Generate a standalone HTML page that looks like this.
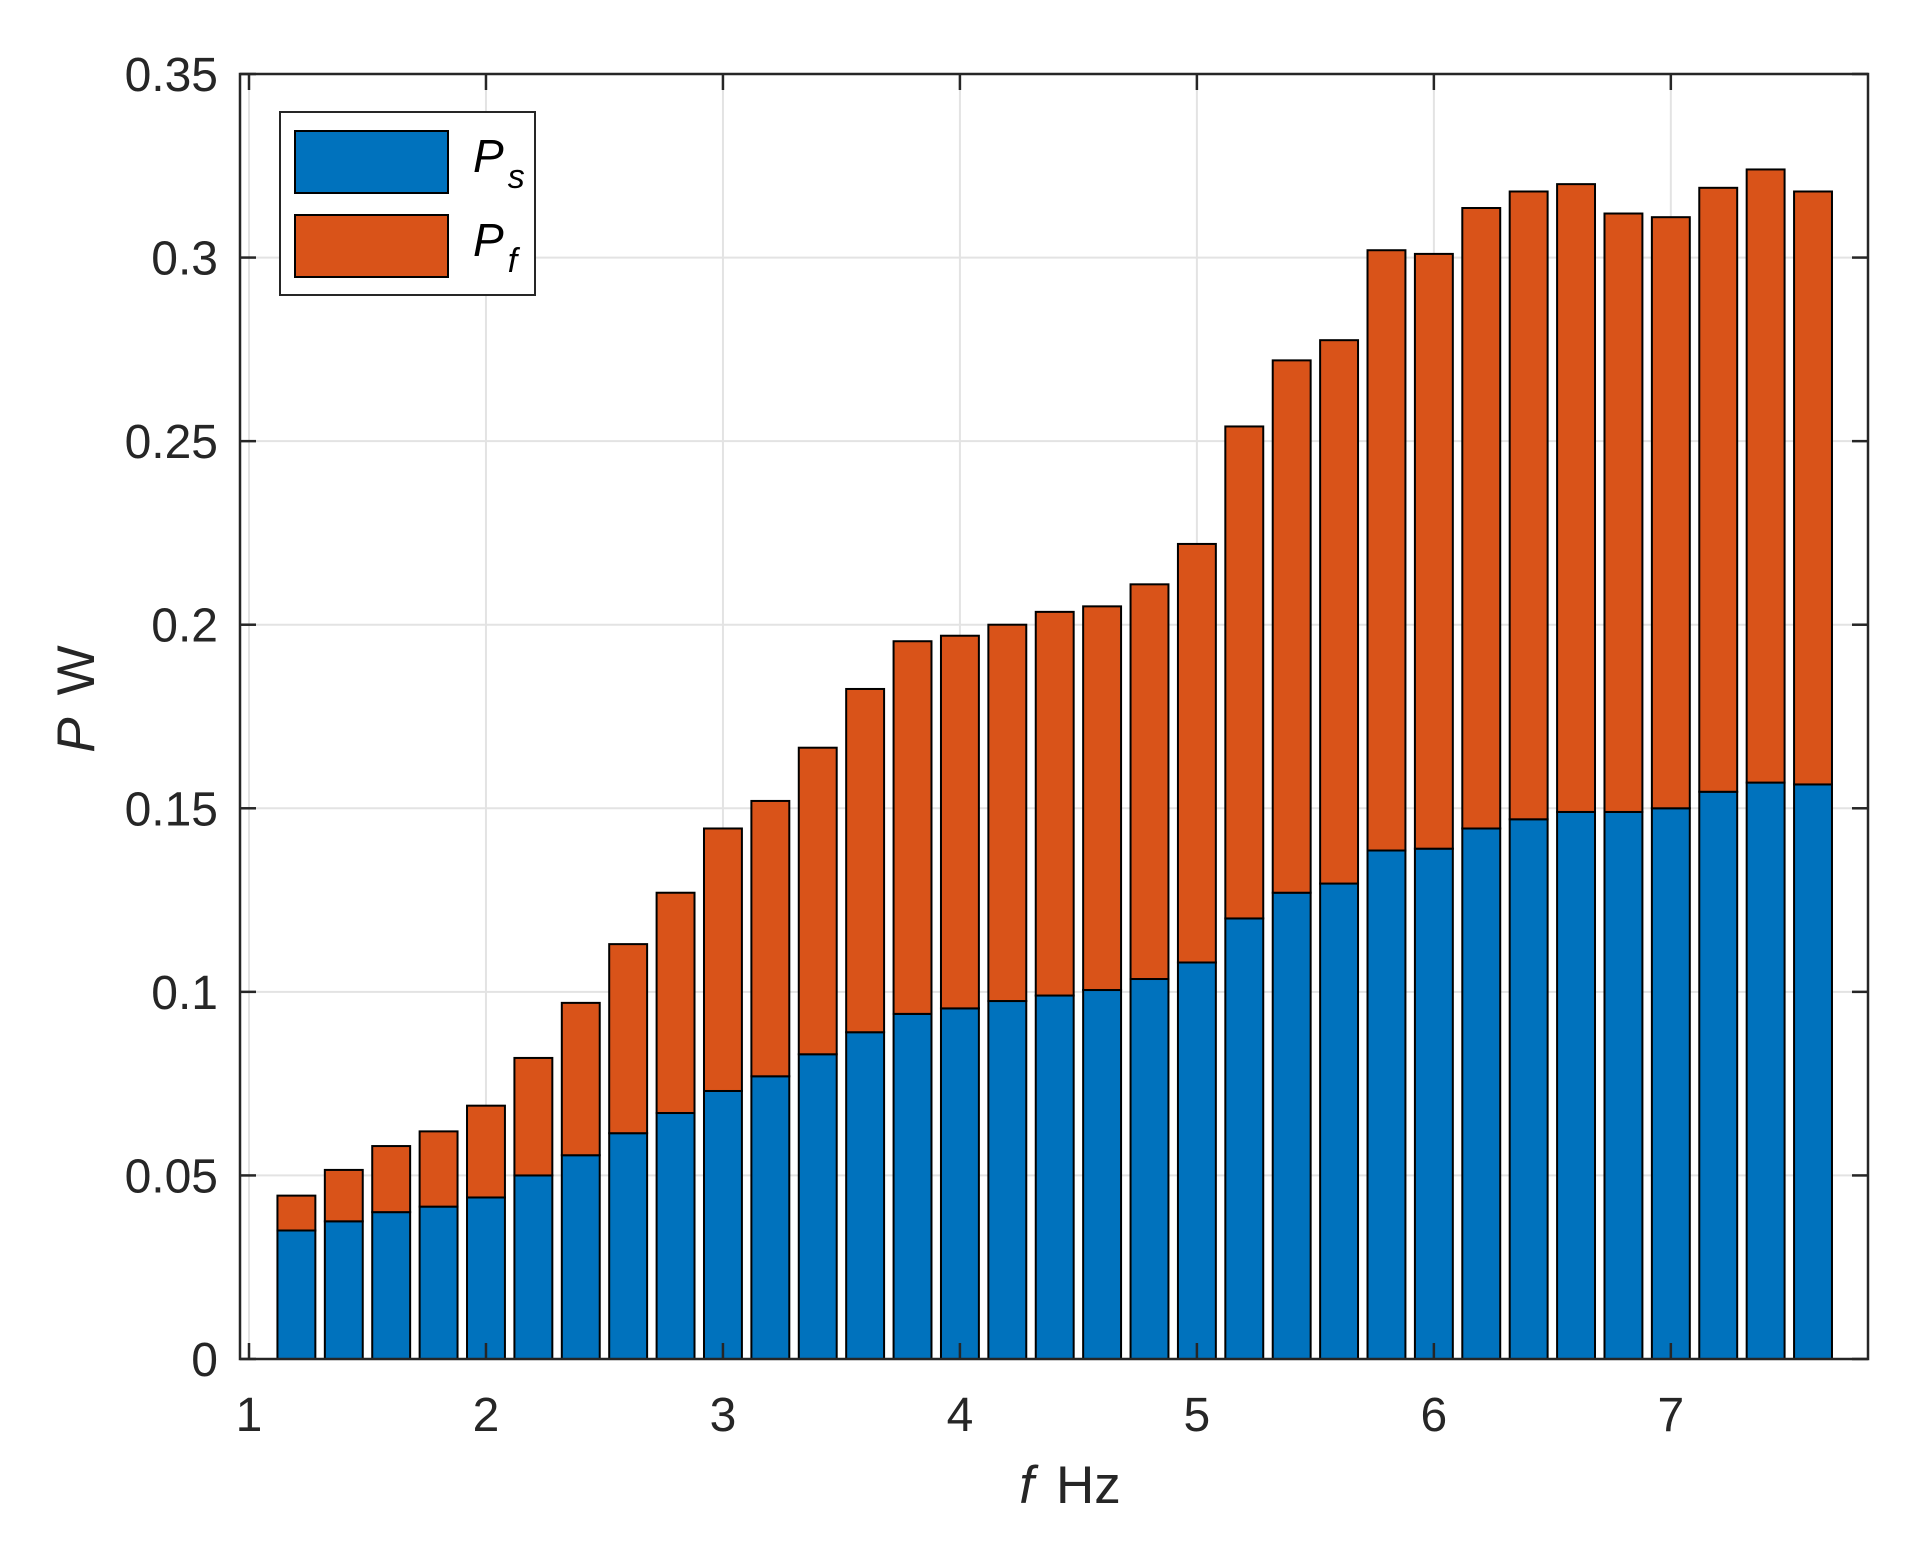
<!DOCTYPE html>
<html><head><meta charset="utf-8"><style>
html,body{margin:0;padding:0;background:#fff;}
svg{display:block;font-family:"Liberation Sans",Arial,sans-serif;}
</style></head><body>
<svg id="chart" width="1928" height="1553" viewBox="0 0 1928 1553" xmlns="http://www.w3.org/2000/svg">
<rect x="0" y="0" width="1928" height="1553" fill="#fff"/>
<g id="grid"></g>
<g id="bars"></g>
<g id="axes"></g>
<text x="1070" y="1503" font-size="53" text-anchor="middle" fill="#262626"><tspan font-style="italic">f</tspan><tspan dx="22">Hz</tspan></text>
<text transform="translate(94,699) rotate(-90)" font-size="53" text-anchor="middle" fill="#262626"><tspan font-style="italic">P</tspan><tspan dx="22">W</tspan></text>
<g>
<rect x="280" y="112" width="255" height="183" fill="#fff" stroke="#262626" stroke-width="2"/>
<rect x="295" y="131" width="153" height="62" fill="#0072BD" stroke="#000" stroke-width="2"/>
<text x="473" y="172" font-size="46" font-style="italic" fill="#000">P<tspan font-size="34" dx="4" dy="16">s</tspan></text>
<rect x="295" y="215" width="153" height="62" fill="#D95319" stroke="#000" stroke-width="2"/>
<text x="473" y="256" font-size="46" font-style="italic" fill="#000">P<tspan font-size="34" dx="4" dy="16">f</tspan></text>
</g>
</svg>
<script>
const freqs = [1.2,1.4,1.6,1.8,2.0,2.2,2.4,2.6,2.8,3.0,3.2,3.4,3.6,3.8,4.0,4.2,4.4,4.6,4.8,5.0,5.2,5.4,5.6,5.8,6.0,6.2,6.4,6.6,6.8,7.0,7.2,7.4,7.6];
const psValues = [0.035,0.0375,0.04,0.0415,0.044,0.05,0.0555,0.0615,0.067,0.073,0.077,0.083,0.089,0.094,0.0955,0.0975,0.099,0.1005,0.1035,0.108,0.12,0.127,0.1295,0.1385,0.139,0.1445,0.147,0.149,0.149,0.15,0.1545,0.157,0.1565];
const pfValues = [0.0095,0.014,0.018,0.0205,0.025,0.032,0.0415,0.0515,0.06,0.0715,0.075,0.0835,0.0935,0.1015,0.1015,0.1025,0.1045,0.1045,0.1075,0.114,0.134,0.145,0.148,0.1635,0.162,0.169,0.171,0.171,0.163,0.161,0.1645,0.167,0.1615];
const xTicks = [1,2,3,4,5,6,7];
const yTicks = [0,0.05,0.1,0.15,0.2,0.25,0.3,0.35];
const yTickLabels = ["0","0.05","0.1","0.15","0.2","0.25","0.3","0.35"];

const NS="http://www.w3.org/2000/svg";
const L=240,R=1868,T=74,B=1359;
const XMIN=0.962,XMAX=7.832,YMIN=0,YMAX=0.35;
function sx(v){return L+(v-XMIN)/(XMAX-XMIN)*(R-L);}
function sy(v){return B-(v-YMIN)/(YMAX-YMIN)*(B-T);}
function mk(tag,attrs,parent){const e=document.createElementNS(NS,tag);for(const k in attrs)e.setAttribute(k,attrs[k]);parent.appendChild(e);return e;}
const grid=document.getElementById('grid'),bars=document.getElementById('bars'),axes=document.getElementById('axes');

xTicks.forEach(t=>{
  const g=mk('line',{x1:sx(t),x2:sx(t),y1:T,y2:B,stroke:'#e3e3e3','stroke-width':2},grid);
  
  
});
yTicks.forEach(t=>{
  const g=mk('line',{x1:L,x2:R,y1:sy(t),y2:sy(t),stroke:'#e3e3e3','stroke-width':2},grid);
  
  
});

const bw=0.16;
freqs.forEach((f,i)=>{
  const x0=sx(f-bw/2),w=sx(f+bw/2)-sx(f-bw/2);
  const ps=psValues[i],pf=pfValues[i];
  const b1=mk('rect',{x:x0,y:sy(ps),width:w,height:sy(0)-sy(ps),fill:'#0072BD',stroke:'#000','stroke-width':2},bars);
  
  
  const b2=mk('rect',{x:x0,y:sy(ps+pf),width:w,height:sy(ps)-sy(ps+pf),fill:'#D95319',stroke:'#000','stroke-width':2},bars);
  
  
});

const box=mk('rect',{x:L,y:T,width:R-L,height:B-T,fill:'none',stroke:'#262626','stroke-width':2.5},axes);


xTicks.forEach(t=>{
  mk('line',{x1:sx(t),x2:sx(t),y1:B,y2:B-16,stroke:'#262626','stroke-width':2.5},axes);
  mk('line',{x1:sx(t),x2:sx(t),y1:T,y2:T+16,stroke:'#262626','stroke-width':2.5},axes);
  const tx=mk('text',{x:sx(t),y:1431,'font-size':48,'text-anchor':'middle',fill:'#262626'},axes);
  tx.textContent=String(t);
  
  
});
yTicks.forEach((t,i)=>{
  mk('line',{x1:L,x2:L+16,y1:sy(t),y2:sy(t),stroke:'#262626','stroke-width':2.5},axes);
  mk('line',{x1:R,x2:R-16,y1:sy(t),y2:sy(t),stroke:'#262626','stroke-width':2.5},axes);
  const ty=mk('text',{x:218,y:sy(t)+17,'font-size':48,'text-anchor':'end',fill:'#262626'},axes);
  ty.textContent=yTickLabels[i];
  
  
});
</script>
</body></html>
